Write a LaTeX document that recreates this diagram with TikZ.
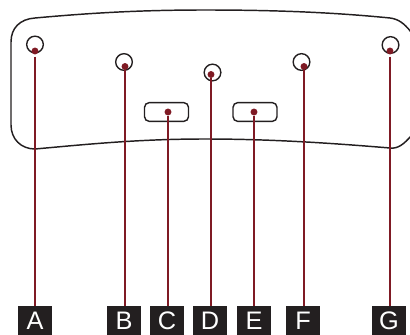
\documentclass[tikz,border=0pt]{standalone}
\usepackage{fontspec}
\setmainfont{Liberation Sans}
\definecolor{leader}{HTML}{7F1A24}
\definecolor{ink}{HTML}{231F20}

\begin{document}
\begin{tikzpicture}[x=0.75pt, y=-0.75pt,
    hole/.style={draw=ink, circle, line width=1.05pt, minimum size=12.5pt, inner sep=0pt},
    slot/.style={draw=ink, rounded corners=3.5pt, line width=1.05pt, minimum width=33pt, minimum height=14pt, inner sep=0pt},
    pin/.style={fill=leader, circle, minimum size=5.2pt, inner sep=0pt},
    tag/.style={fill=ink, text=white, minimum width=25.5pt, minimum height=22pt, inner sep=0pt, font=\fontsize{19}{19}\selectfont},
    leadline/.style={draw=leader, line width=1.15pt}]
    \useasboundingbox (0,0) rectangle (410,335);

    % plate outline
    \draw[ink, line width=1.1pt] (411,32) .. controls (404,23) and (398,19) .. (390,18)
        .. controls (330,12) and (270,10) .. (205,10)
        .. controls (140,10) and (90,13) .. (35,18)
        .. controls (20,19) and (11,28) .. (11,42) -- (11,125)
        .. controls (11,139) and (21,149) .. (35,149)
        .. controls (90,144) and (140,139) .. (205,139)
        .. controls (270,139) and (330,143) .. (390,148)
        .. controls (398,149) and (404,144) .. (411,136);

    % holes and slots
    \node[hole] (holeA) at (35,44.5) {};
    \node[hole] (holeB) at (124,62) {};
    \node[hole] (holeD) at (212.5,72.5) {};
    \node[hole] (holeF) at (301.5,62) {};
    \node[hole] (holeG) at (390.5,45) {};
    \node[slot] (slotC) at (166.5,112) {};
    \node[slot] (slotE) at (255,112) {};

    % pins
    \node[pin] (pinA) at (35,51) {};
    \node[pin] (pinB) at (125,66.5) {};
    \node[pin] (pinC) at (168,112) {};
    \node[pin] (pinD) at (211,74.5) {};
    \node[pin] (pinE) at (254,112) {};
    \node[pin] (pinF) at (304,66.5) {};
    \node[pin] (pinG) at (390,51) {};

    % tags
    \node[tag] (tagA) at (35,320.5) {A};
    \node[tag] (tagB) at (124,320.5) {B};
    \node[tag] (tagC) at (167,320.5) {C};
    \node[tag] (tagD) at (210,320.5) {D};
    \node[tag] (tagE) at (254,320.5) {E};
    \node[tag] (tagF) at (303,320.5) {F};
    \node[tag] (tagG) at (389,320.5) {G};

    \draw[leadline, shorten <=1.5pt] (pinA) -- (pinA |- tagA.north);
    \draw[leadline] (pinB) -- (pinB |- tagB.north);
    \draw[leadline] (pinC) -- (pinC |- tagC.north);
    \draw[leadline] (pinD) -- (pinD |- tagD.north);
    \draw[leadline] (pinE) -- (pinE |- tagE.north);
    \draw[leadline] (pinF) -- (pinF |- tagF.north);
    \draw[leadline, shorten <=1.5pt] (pinG) -- (pinG |- tagG.north);
\end{tikzpicture}
\end{document}
